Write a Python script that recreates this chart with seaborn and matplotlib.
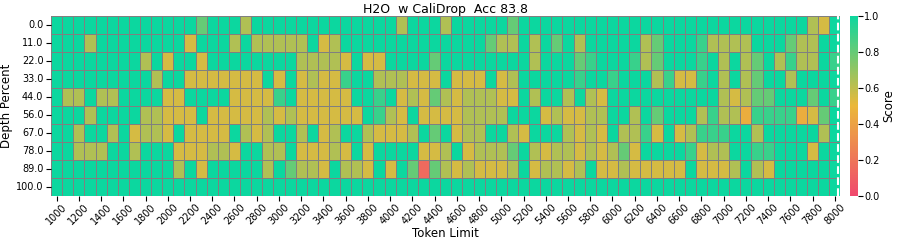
import pandas as pd
import matplotlib
matplotlib.use("Agg")
import matplotlib.pyplot as plt
import seaborn as sns
from matplotlib.colors import LinearSegmentedColormap

# === Data ===
token_limits = list(range(1000, 8001, 100))
depth_percents = [0.0, 11.0, 22.0, 33.0, 44.0, 56.0, 67.0, 78.0, 89.0, 100.0]

depth_0 = [1, 1, 1, 1, 1, 1, 1, 1, 1, 1,
           1, 1, 1, .8, 1, 1, 1, .63, 1, 1,
           1, 1, 1, 1, 1, 1, 1, 1, 1, 1,
           1, .63, 1, 1, 1, .63, 1, 1, 1, 1,
           1, .8, 1, 1, 1, 1, 1, 1, 1, 1,
           1, 1, 1, 1, 1, 1, 1, 1, 1, 1,
           1, 1, 1, 1, 1, 1, 1, 1, .63, .55,
           1]
depth_11 = [1, 1, 1, .63, 1, 1, 1, 1, 1, 1,
            1, 1, .55, 1, 1, 1, .63, 1, .63, .63,
            .63, .63, .63, 1, .55, .63, 1, 1, 1, 1,
            1, 1, 1, 1, 1, 1, 1, 1, 1, .8,
            .63, .63, 1, .63, 1, .8, 1, .63, 1, 1,
            1, 1, 1, .63, .8, 1, 1, 1, .9, .63,
            .63, .63, .63, 1, 1, 1, .8, .63, .63, 1,
            1]
depth_22 = [1, 1, 1, 1, 1, 1, 1, 1, .63, 1,
            .55, 1, 1, .55, 1, 1, 1, 1, 1, 1,
            1, 1, .63, .63, .63, .63, .55, 1, .55, .55,
            1, 1, 1, 1, .8, 1, 1, 1, 1, 1,
            1, 1, 1, .63, 1, 1, 1, .8, .9, 1,
            1, 1, .9, .63, .8, 1, 1, 1, .9, 1,
            .63, 1, .63, .8, 1, .63, .9, .63, .63, 1,
            .9]
depth_33 = [1, 1, 1, 1, 1, 1, 1, 1, 1, .63,
            1, 1, .55, .55, .55, .55, .55, .55, .55, 1,
            .55, 1, .55, .63, .55, .55, .9, 1, 1, .63,
            .63, .63, .55, .55, .55, 1, .55, .55, .55, 1,
            .55, .63, 1, 1, 1, 1, 1, .9, 1, 1,
            .9, 1, 1, 1, .63, .9, .55, .55, .9, 1,
            .63, 1, .63, .8, 1, 1, .63, 1, 1, 1,
            1]
depth_44 = [1, .63, .63, 1, .63, .63, 1, 1, 1, 1,
            .55, .55, 1, 1, 1, 1, .55, .55, .55, .55,
            .9, 1, .55, .55, .55, .55, .55, 1, 1, .9,
            1, .55, .63, .55, .8, .63, .55, .63, .63, .63,
            .55, .55, 1, .63, 1, 1, .63, 1, .63, .55,
            1, 1, 1, 1, 1, 1, 1, 1, 1, 1,
            .63, .55, .63, .8, .8, 1, 1, 1, .8, 1,
            .9]
depth_56 = [1, 1, 1, .63, 1, 1, 1, 1, .63, .63,
            .55, .55, .55, 1, .55, .55, .55, .55, .55, .63,
            .55, .63, .55, .55, .55, .55, .55, .55, 1, .9,
            .63, .55, 1, .55, .55, .55, .55, .63, .63, .63,
            .63, 1, 1, 1, .55, .63, .55, .55, .63, .63,
            1, 1, .63, 1, .8, 1, 1, 1, .63, .9,
            .63, .63, .45, .9, .9, .9, .9, .45, .55, .8,
            1]
depth_67 = [1, 1, .63, 1, 1, .63, 1, .55, .63, .63,
            .55, 1, .55, .55, .55, .55, 1, .63, .55, .63,
            1, 1, .63, 1, .55, .63, 1, 1, .63, .55,
            .55, .55, .63, 1, .8, 1, .55, .63, .63, 1,
            1, .63, .55, 1, 1, 1, .63, .55, .63, .55,
            1, .63, .63, .9, .55, 1, .55, .63, .9, .9,
            .9, 1, 1, .63, 1, 1, 1, 1, 1, .63,
            1]
depth_78 = [1, 1, .63, .63, .63, 1, 1, .63, 1, 1,
            1, .55, .55, .55, .63, .63, .55, 1, 1, .63,
            .63, 1, .55, .55, .55, .63, .55, 1, .55, 1,
            1, 1, 1, .55, .55, .63, 1, .55, .63, .63,
            .63, .8, 1, .63, .55, .63, .63, .55, .63, .55,
            .63, .8, .55, 1, 1, 1, 1, .9, .55, .63,
            .63, 1, 1, .9, .9, 1, 1, 1, .55, 1,
            1]
depth_89 = [1, 1, 1, 1, 1, 1, 1, 1, 1, 1,
            1, .63, 1, .55, 1, 1, 1, 1, 1, .63,
            1, .8, .63, .63, .55, 1, .63, .63, .55, 1,
            .55, 1, .8, .15, .8, .63, .55, .63, .55, .55,
            .55, .63, 1, .55, .63, .63, .55, .63, 1, .55,
            .55, .63, .55, .55, .55, .55, .55, 1, .55, .55,
            .55, .63, 1, .63, .55, 1, 1, 1, 1, 1,
            1]
depth_100 = [1] * len(token_limits)

scores = pd.DataFrame(
    [depth_0, depth_11, depth_22, depth_33, depth_44,
     depth_56, depth_67, depth_78, depth_89, depth_100],
    index=depth_percents, columns=token_limits)

# === Plot ===
cmap = LinearSegmentedColormap.from_list("custom_cmap", ["#F0496E", "#EBB839", "#0CD79F"])

fig = plt.figure(figsize=(8.97, 2.41), dpi=100)
ax = fig.add_axes([0.0569, 0.188, 0.880, 0.747])
cax = fig.add_axes([0.9476, 0.188, 0.0089, 0.747])

sns.heatmap(scores, ax=ax, cbar_ax=cax, cmap=cmap, vmin=0, vmax=1,
            linewidths=0.5, linecolor='grey', xticklabels=2,
            cbar_kws={'label': 'Score'})

# dashed marker at the right end of the context range
ax.axvline(x=70.8, color='white', linestyle='--', linewidth=1.5)

ax.set_title("H2O  w CaliDrop  Acc 83.8", fontsize=9, pad=2)
ax.set_xlabel("Token Limit", fontsize=8.5, labelpad=0)
ax.set_ylabel("Depth Percent", fontsize=8.5, labelpad=2)
ax.tick_params(axis='x', labelsize=7, rotation=45, pad=1)
ax.tick_params(axis='y', labelsize=7, rotation=0, pad=2)

cax.tick_params(labelsize=7, pad=1)
cax.set_ylabel("Score", fontsize=8.5, labelpad=2)

plt.savefig("out.png", dpi=100)
